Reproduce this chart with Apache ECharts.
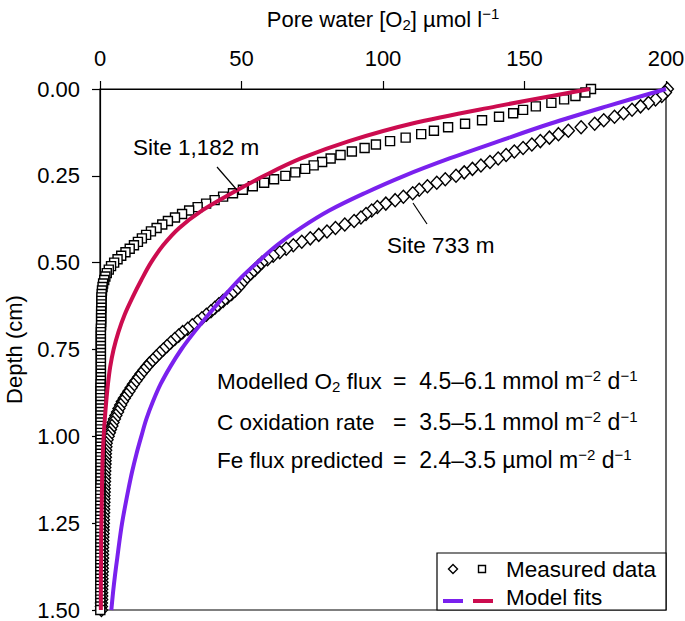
<!DOCTYPE html>
<html>
<head>
<meta charset="utf-8">
<script src="https://cdn.jsdelivr.net/npm/echarts@6/dist/echarts.min.js"></script>
<style>
html,body{margin:0;padding:0;background:#fff;}
#chart{width:685px;height:621px;}
</style>
</head>
<body>
<div id="chart"></div>
<script>
// ---------------- DATA ----------------
const depthMeasured = [
0.00,0.01,0.02,0.03,0.04,0.05,0.06,0.07,0.08,0.09,
0.10,0.11,0.12,0.13,0.14,0.15,0.16,0.17,0.18,0.19,
0.20,0.21,0.22,0.23,0.24,0.25,0.26,0.27,0.28,0.29,
0.30,0.31,0.32,0.33,0.34,0.35,0.36,0.37,0.38,0.39,
0.40,0.41,0.42,0.43,0.44,0.45,0.46,0.47,0.48,0.49,
0.50,0.51,0.52,0.53,0.54,0.55,0.56,0.57,0.58,0.59,
0.60,0.61,0.62,0.63,0.64,0.65,0.66,0.67,0.68,0.69,
0.70,0.71,0.72,0.73,0.74,0.75,0.76,0.77,0.78,0.79,
0.80,0.81,0.82,0.83,0.84,0.85,0.86,0.87,0.88,0.89,
0.90,0.91,0.92,0.93,0.94,0.95,0.96,0.97,0.98,0.99,
1.00,1.01,1.02,1.03,1.04,1.05,1.06,1.07,1.08,1.09,
1.10,1.11,1.12,1.13,1.14,1.15,1.16,1.17,1.18,1.19,
1.20,1.21,1.22,1.23,1.24,1.25,1.26,1.27,1.28,1.29,
1.30,1.31,1.32,1.33,1.34,1.35,1.36,1.37,1.38,1.39,
1.40,1.41,1.42,1.43,1.44,1.45,1.46,1.47,1.48,1.49,
1.50
];

// Site 733 m measured (diamonds), O2 in umol/l
const site733Measured = [
200.5,199.8,198.5,196.3,193.8,191,188,185,181.8,178,
174.8,170,165.5,162,158.8,155.6,152.6,149.5,146.4,143.5,
140.7,137.8,134.6,131.6,128.7,125.8,122,119,115.7,112.8,
110.5,107.2,104.3,101,98,96,94,92.2,89.8,86.5,
83.2,80.2,77.3,74.3,71.3,68.3,65.8,63.5,61.2,59.2,
57.2,56,54.8,53.5,52.2,51,50,49,47.8,46.5,
45,43.5,42,40.6,39.2,37.6,36,34.4,32.6,31,
29.2,27.8,26.4,25,23.7,22.4,21.1,19.9,18.7,17.5,
16.5,15.5,14.5,13.6,12.7,11.8,11,10.2,9.4,8.6,
7.9,7.3,6.7,6.2,5.6,5.1,4.6,4.2,3.7,3.3,
2.9,2.5,2.2,2.1,2.0,1.9,1.9,1.8,1.8,1.7,
1.7,1.6,1.6,1.6,1.5,1.5,1.5,1.4,1.4,1.4,
1.3,1.3,1.3,1.2,1.2,1.2,1.1,1.1,1.1,1.0,
1.0,1.0,0.9,0.9,0.9,0.9,0.8,0.8,0.8,0.8,
0.7,0.7,0.7,0.7,0.6,0.6,0.6,0.6,0.5,0.5,
0.5
];

// Site 1,182 m measured (squares)
const site1182Measured = [
173.5,171.5,168,164,159.5,154,149.5,146,141,135,
129,123,118,113.5,108,102.5,97.5,93.5,89,85,
81.5,78.5,75.5,72.5,69,65.5,61.5,58,54,50.5,
47,43.5,40.5,37.5,34.5,31.5,29,26.5,24,22,
20,18,16.3,14.8,13.4,12,10.5,9,7.5,6.2,
5,3.9,3.1,2.4,1.9,1.5,1.1,0.9,0.7,0.6,
0.5,0.5,0.5,0.5,0.4,0.4,0.4,0.4,0.4,0.3,
0.3,0.3,0.3,0.3,0.3,0.3,0.3,0.3,0.3,0.3,
0.3,0.3,0.3,0.3,0.3,0.2,0.2,0.2,0.2,0.2,
0.2,0.2,0.2,0.2,0.2,0.2,0.2,0.2,0.2,0.2,
0.2,0.2,0.2,0.2,0.2,0.2,0.2,0.2,0.2,0.2,
0.2,0.2,0.2,0.2,0.2,0.1,0.1,0.1,0.1,0.1,
0.1,0.1,0.1,0.1,0.1,0.1,0.1,0.1,0.1,0.1,
0.1,0.1,0.1,0.1,0.1,0.1,0.1,0.1,0.1,0.1,
0.1,0.1,0.1,0.1,0.1,0.1,0.1,0.1,0.1,0.1,
0.1
];

// Model fits
const depthModel = [0,0.05,0.10,0.15,0.20,0.25,0.30,0.35,0.40,0.45,0.50,0.55,0.60,0.65,0.70,0.75,0.80,0.85,0.90,0.95,1.00,1.05,1.10,1.15,1.20,1.25,1.30,1.35,1.40,1.45,1.50];
const site733Model = [200,179,159,141,123.5,107.5,93.5,81,71,62.5,55.5,49,43.5,38.3,33.3,28.7,24.8,21.4,18.7,16.4,14.6,12.9,11.4,10.1,8.9,7.8,6.9,6.1,5.3,4.6,4.0];
const site1182Model = [173,140,110,88,71,58,46.5,36,28,22.3,18,14.6,11.5,8.7,6.5,4.8,3.6,2.8,2.2,1.7,1.3,1.0,0.8,0.7,0.6,0.5,0.4,0.4,0.3,0.3,0.3];

const xTickValues = [0,50,100,150,200];
const yTickValues = [0,0.25,0.50,0.75,1.00,1.25,1.50];

// ---------------- CHART ----------------
const FONT = '"Liberation Sans", Arial, Helvetica, sans-serif';
const RED = '#cc0c4f';
const PURPLE = '#7a21ee';

function pairs(xs, ys){ return xs.map((x,i)=>[x, ys[i]]); }

const richEC = {
  sub:{fontSize:15, lineHeight:14, verticalAlign:'bottom', fontFamily:FONT, color:'#000'},
  sup:{fontSize:15, lineHeight:14, verticalAlign:'top', fontFamily:FONT, color:'#000'}
};
const richZR = {
  sub:{fontSize:15, lineHeight:14, verticalAlign:'bottom', fontFamily:FONT, fill:'#000'},
  sup:{fontSize:15, lineHeight:14, verticalAlign:'top', fontFamily:FONT, fill:'#000'}
};

const chart = echarts.init(document.getElementById('chart'), null, {renderer:'svg'});

function txt(text, x, y, size){
  return {type:'text', z:100, silent:true,
    style:{text:text, x:x, y:y, fontSize:size||22.5, fontFamily:FONT, fill:'#000',
      lineHeight:26, align:'left', verticalAlign:'middle', rich:richZR}};
}
function seg(x1,y1,x2,y2,color,w){
  return {type:'line', z:100, silent:true, shape:{x1:x1,y1:y1,x2:x2,y2:y2},
    style:{stroke:color, lineWidth:w}};
}

const option = {
  backgroundColor:'#fff',
  animation:false,
  grid:{left:100, right:19, top:89, bottom:11, containLabel:false, outerBoundsMode:'none',
    show:true, borderColor:'#000', borderWidth:1.2, backgroundColor:'transparent'},
  xAxis:{
    type:'value', position:'top', min:0, max:200, interval:50,
    axisLine:{show:true, onZero:false, lineStyle:{color:'#000', width:1.2}},
    axisTick:{show:true, inside:false, length:8, lineStyle:{color:'#000', width:1.2}},
    axisLabel:{fontSize:22, color:'#000', fontFamily:FONT, margin:20,
      formatter:v=> xTickValues.includes(v) ? String(v) : ''},
    splitLine:{show:false},
    name:'Pore water [O{sub|2}] µmol l{sup|−1}',
    nameLocation:'middle', nameGap:57,
    nameTextStyle:{fontSize:22, color:'#000', fontFamily:FONT, lineHeight:26, rich:richEC}
  },
  yAxis:{
    type:'value', inverse:true, min:0, max:1.5, interval:0.25,
    axisLine:{show:true, onZero:false, lineStyle:{color:'#000', width:1.2}},
    axisTick:{show:true, inside:false, length:8, lineStyle:{color:'#000', width:1.2}},
    axisLabel:{fontSize:22, color:'#000', fontFamily:FONT, margin:20,
      formatter:v=> yTickValues.some(t=>Math.abs(t-v)<1e-9) ? v.toFixed(2) : ''},
    splitLine:{show:false},
    name:'Depth (cm)', nameLocation:'middle', nameGap:75,
    nameTextStyle:{fontSize:22, color:'#000', fontFamily:FONT}
  },
  series:[
    {type:'scatter', name:'Site 733 m measured', data:pairs(site733Measured, depthMeasured),
      symbol:'diamond', symbolSize:[12,13], clip:false, silent:true, z:2,
      itemStyle:{color:'#fff', borderColor:'#000', borderWidth:1.4, opacity:1}},
    {type:'scatter', name:'Site 1,182 m measured', data:pairs(site1182Measured, depthMeasured),
      symbol:'rect', symbolSize:9, clip:false, silent:true, z:2,
      itemStyle:{color:'#fff', borderColor:'#000', borderWidth:1.4, opacity:1}},
    {type:'line', name:'Site 733 m model', data:pairs(site733Model, depthModel),
      smooth:0.35, showSymbol:false, symbol:'none', silent:true, z:3, clip:false,
      lineStyle:{color:PURPLE, width:4}},
    {type:'line', name:'Site 1,182 m model', data:pairs(site1182Model, depthModel),
      smooth:0.35, showSymbol:false, symbol:'none', silent:true, z:3, clip:false,
      lineStyle:{color:RED, width:4}}
  ],
  graphic:[
    // site labels with leader lines
    txt('Site 1,182 m', 133, 147),
    seg(217,167,237,190,'#000',1.2),
    txt('Site 733 m', 387, 245),
    seg(413,203,427,224,'#000',1.2),
    // info block
    txt('Modelled O{sub|2} flux', 217, 381, 22.5),
    txt('=  4.5–6.1 mmol m{sup|−2} d{sup|−1}', 393, 381, 23),
    txt('C oxidation rate', 217, 422, 22.5),
    txt('=  3.5–5.1 mmol m{sup|−2} d{sup|−1}', 393, 422, 23),
    txt('Fe flux predicted', 217, 460, 22.5),
    txt('=  2.4–3.5 µmol m{sup|−2} d{sup|−1}', 393, 460, 23),
    // legend box
    {type:'rect', z:90, silent:true, shape:{x:437, y:553, width:229, height:57},
      style:{fill:'#fff', stroke:'#000', lineWidth:1.2}},
    {type:'polygon', z:100, silent:true, shape:{points:[[453,564.5],[457.5,569],[453,573.5],[448.5,569]]},
      style:{fill:'#fff', stroke:'#000', lineWidth:1.4}},
    {type:'rect', z:100, silent:true, shape:{x:478.5, y:565.5, width:7, height:7},
      style:{fill:'#fff', stroke:'#000', lineWidth:1.4}},
    txt('Measured data', 506, 569),
    seg(443,601,463,601,PURPLE,4),
    seg(473,601,493,601,RED,4),
    txt('Model fits', 506, 597)
  ]
};
chart.setOption(option);
</script>
</body>
</html>
